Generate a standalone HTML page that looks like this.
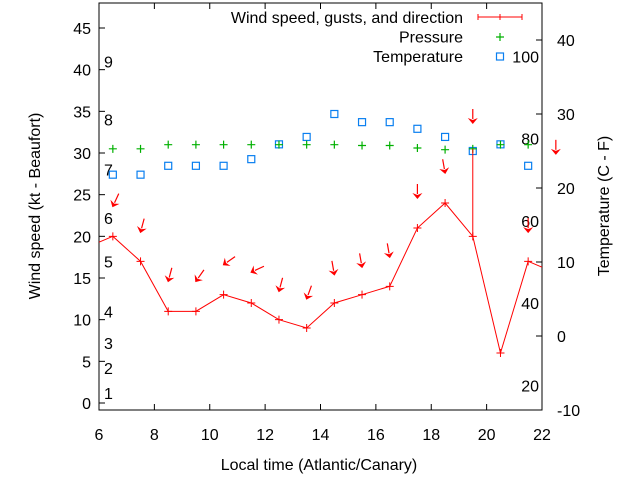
<!DOCTYPE html>
<html><head><meta charset="utf-8"><style>
body{margin:0;background:#fff;}
svg{display:block;font-family:"Liberation Sans",sans-serif;}
</style></head><body>
<svg id="chart" width="640" height="480" viewBox="0 0 640 480">
<g id="grid"></g><g id="marks"></g><g id="legend"></g>
</svg>
<script>
const hours=[6.5,7.5,8.5,9.5,10.5,11.5,12.5,13.5,14.5,15.5,16.5,17.5,18.5,19.5,20.5,21.5];
const wind=[20,17,11,11,13,12,10,9,12,13,14,21,24,20,6,17];
const windEdgeStart=19.3, windEdgeEnd=16.3;
const gustHours=[19.5];
const gustValues=[30.5];
const arrowHours=[6.5,7.5,8.5,9.5,10.5,11.5,12.5,13.5,14.5,15.5,16.5,17.5,18.5,19.5,21.5,22.5];
const arrowLevels=[23.6,20.5,14.6,14.6,16.6,15.7,13.4,12.5,15.4,16.3,17.5,24.6,27.6,33.6,20.5,29.9];
const arrowAngles=[25,15,15,35,55,65,15,20,-10,-10,-10,0,-10,0,0,0];
const pressure=[30.5,30.5,31.0,31.0,31.0,31.0,31.0,31.0,31.0,30.9,30.9,30.6,30.4,30.5,31.0,31.0];
const temperature=[21.8,21.8,23.0,23.0,23.0,23.9,25.9,26.9,30.0,28.9,28.9,28.0,26.9,25.0,25.9,23.0];
const xTicks=[6,8,10,12,14,16,18,20,22];
const yTicks=[0,5,10,15,20,25,30,35,40,45];
const y2Ticks=[-10,0,10,20,30,40];
const beaufort=[[1,1.2],[2,4.2],[3,7.2],[4,11],[5,17],[6,22.2],[7,28],[8,34],[9,41]];
const fahrenheit=[20,40,60,80,100];

const L=99,R=542,T=3,B=410,FS=16;
const X=h=>L+(h-6)*(R-L)/16;
const Y=v=>403-v*(375/45);
const Y2=c=>336-c*7.4;
const NS="http://www.w3.org/2000/svg";
function mk(parent,tag,attrs,text){const e=document.createElementNS(NS,tag);for(const k in attrs)e.setAttribute(k,attrs[k]);if(text!=null)e.textContent=text;document.getElementById(parent).appendChild(e);return e;}
let e;
e=mk('grid','rect',{x:L,y:T,width:R-L,height:B-T,fill:'none',stroke:'#000','stroke-width':1});


xTicks.forEach(h=>{
 e=mk('grid','path',{d:`M${X(h)},${B}v-6M${X(h)},${T}v6`,stroke:'#000'});
 
 
 e=mk('grid','text',{x:X(h),y:B+30,'text-anchor':'middle','font-size':FS},h);
 
 
});
yTicks.forEach(v=>{
 e=mk('grid','path',{d:`M${L},${Y(v)}h6`,stroke:'#000'});
 
 
 e=mk('grid','text',{x:L-8,y:Y(v)+6,'text-anchor':'end','font-size':FS},v);
 
 
});
y2Ticks.forEach(c=>{
 e=mk('grid','path',{d:`M${R},${Y2(c)}h-6`,stroke:'#000'});
 
 
 e=mk('grid','text',{x:R+15,y:Y2(c)+6,'font-size':FS},c);
 
 
});
beaufort.forEach(b=>{
 e=mk('grid','text',{x:104,y:Y(b[1])+6,'font-size':FS},b[0]);
 
 
});
fahrenheit.forEach(f=>{
 const c=(f-32)*5/9;
 e=mk('grid','text',{x:539,y:Y2(c)+6,'text-anchor':'end','font-size':FS},f);
 
 
});
e=mk('grid','text',{x:319,y:470,'text-anchor':'middle','font-size':FS},'Local time (Atlantic/Canary)');


e=mk('grid','text',{x:0,y:0,'text-anchor':'middle','font-size':FS,transform:'translate(40,206) rotate(-90)'},'Wind speed (kt - Beaufort)');


e=mk('grid','text',{x:0,y:0,'text-anchor':'middle','font-size':FS,transform:'translate(609,206) rotate(-90)'},'Temperature (C - F)');



hours.forEach((h,i)=>{
 e=mk('marks','rect',{x:X(h)-3.5,y:Y2(temperature[i])-3.5,width:7,height:7,fill:'none',stroke:'#0a7ff0','stroke-width':1.2});
 
 
});
hours.forEach((h,i)=>{
 const x=X(h),y=Y(pressure[i]);
 e=mk('marks','path',{d:`M${x-4},${y}h8M${x},${y-4}v8`,stroke:'#00b000','stroke-width':1.2});
 
 
});
let d=`M${L},${Y(windEdgeStart)}`+hours.map((h,i)=>`L${X(h)},${Y(wind[i])}`).join('')+`L${R},${Y(windEdgeEnd)}`;
e=mk('marks','path',{d,fill:'none',stroke:'#f00','stroke-width':1});


hours.forEach((h,i)=>{
 const x=X(h),y=Y(wind[i]);
 e=mk('marks','path',{d:`M${x-4},${y}h8M${x},${y-4}v8`,stroke:'#f00','stroke-width':1});
 
 
});
gustHours.forEach((h,i)=>{
 const idx=hours.indexOf(h);
 e=mk('marks','path',{d:`M${X(h)},${Y(wind[idx])}V${Y(gustValues[i])}`,stroke:'#f00','stroke-width':1});
 
 
});
arrowHours.forEach((h,i)=>{
 const x=X(h),y=Y(arrowLevels[i]);
 e=mk('marks','g',{transform:`translate(${x},${y}) rotate(${arrowAngles[i]})`});
 
 
 const p=document.createElementNS(NS,'path');
 p.setAttribute('d','M0,-14V-4');p.setAttribute('stroke','#f00');p.setAttribute('stroke-width','1.2');e.appendChild(p);
 const q=document.createElementNS(NS,'path');
 q.setAttribute('d','M-5,-5L0,1L5,-5L0,-3Z');q.setAttribute('fill','#f00');e.appendChild(q);
});
const legendLabels=['Wind speed, gusts, and direction','Pressure','Temperature'];
legendLabels.forEach((t,i)=>{
 const y=17+i*19.5;
 e=mk('legend','text',{x:463,y:y+6,'text-anchor':'end','font-size':FS},t);
 
 
});
e=mk('legend','path',{d:'M478,17h44M478,14v6M522,14v6M500,14v6',stroke:'#f00'});


e=mk('legend','path',{d:'M496,37h8M500,33v8',stroke:'#00b000','stroke-width':1.2});


e=mk('legend','rect',{x:496.5,y:53,width:7,height:7,fill:'none',stroke:'#0a7ff0','stroke-width':1.2});


</script>
</body></html>
